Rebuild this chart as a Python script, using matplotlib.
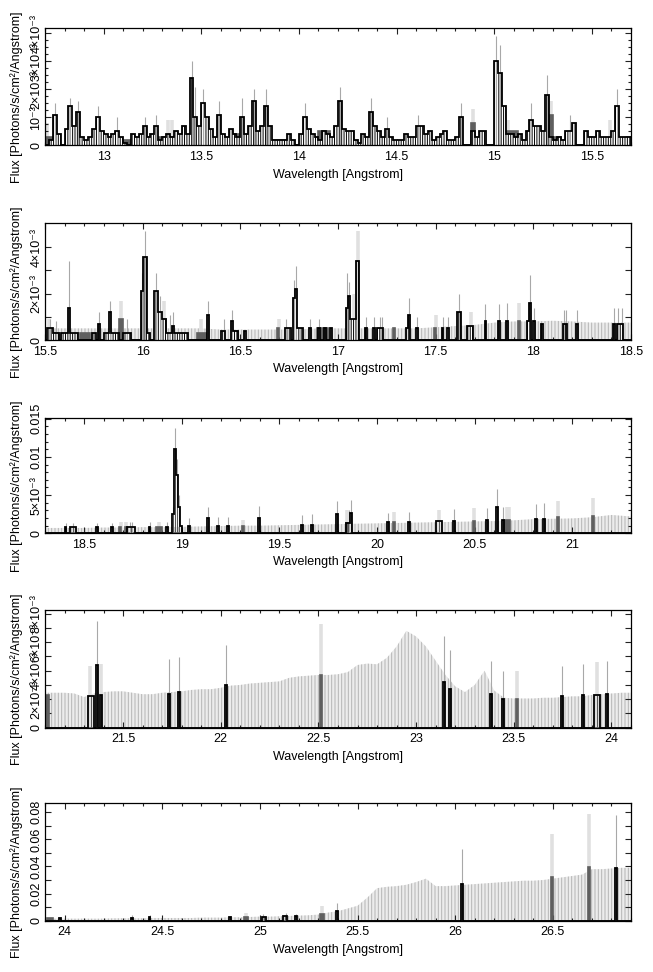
import numpy as np
import matplotlib.pyplot as plt
from matplotlib.ticker import MultipleLocator, FormatStrFormatter

plt.rcParams['font.family'] = ['Liberation Sans', 'DejaVu Sans']
plt.rcParams['font.size'] = 9
plt.rcParams['hatch.linewidth'] = 0.7

# ---------------- data (flux in units given by the per-panel scale) ----------------
# panel 1: regular 0.02 A bins, flux in 1e-4 photons/s/cm2/A
p1_start = 12.70
p1_width = 0.02
p1_flux = [0, 2, 11, 4, 0, 6, 14, 7, 12, 3,
           2, 3, 6, 10, 5, 4, 3, 4, 5, 3,
           1, 0, 4, 3, 4, 7, 3, 4, 7, 2,
           3, 4, 3, 5, 4, 7, 4, 24, 10, 7,
           15, 10, 6, 3, 11, 4, 3, 6, 4, 3,
           10, 4, 7, 16, 5, 7, 14, 7, 2, 2,
           2, 2, 4, 2, 0, 4, 10, 6, 4, 3,
           2, 5, 4, 3, 7, 16, 6, 5, 5, 2,
           1, 4, 3, 12, 7, 5, 3, 6, 3, 2,
           2, 2, 4, 3, 3, 7, 7, 4, 5, 2,
           3, 4, 5, 2, 2, 3, 10, 0, 0, 5,
           3, 5, 5, 0, 0, 30, 26, 14, 4, 4,
           3, 4, 2, 5, 9, 7, 7, 5, 18, 3,
           2, 3, 2, 5, 5, 8, 0, 0, 5, 3,
           3, 5, 3, 3, 3, 5, 14, 3, 3, 3]
p1_dark = [(12.70, 12.74, 3), (13.10, 13.14, 2), (13.28, 13.36, 3), (13.66, 13.70, 4),
           (13.86, 13.94, 2), (14.10, 14.16, 5), (14.88, 14.90, 8), (15.06, 15.12, 5),
           (15.28, 15.30, 11), (15.30, 15.34, 3), (15.48, 15.50, 3), (15.68, 15.70, 3)]
p1_err = [(12.75, 15), (12.83, 17), (12.87, 16), (12.97, 14), (13.07, 10), (13.21, 10),
          (13.27, 11), (13.45, 30), (13.47, 21), (13.51, 20), (13.59, 16), (13.71, 17),
          (13.77, 20), (13.83, 20), (14.03, 15), (14.21, 21), (14.37, 17), (14.45, 10),
          (14.61, 11), (14.83, 15), (15.01, 39), (15.03, 36), (15.19, 15), (15.27, 25),
          (15.39, 11), (15.63, 20)]
p1_light = [(12.71, 8), (13.33, 9), (13.35, 9), (14.89, 13), (15.07, 9), (15.29, 16), (15.59, 9)]

# panel 2: flux in 1e-4
p2_black = [(15.51, 15.54, 5), (15.54, 15.57, 3), (15.58, 15.62, 3), (15.62, 15.63, 14), (15.63, 15.67, 3),
            (15.74, 15.76, 3), (15.77, 15.78, 7), (15.80, 15.83, 3), (15.83, 15.84, 12), (15.84, 15.88, 3),
            (15.90, 15.94, 3), (15.99, 16.00, 21), (16.00, 16.02, 36), (16.02, 16.04, 3),
            (16.06, 16.08, 21), (16.08, 16.10, 12), (16.10, 16.12, 9), (16.12, 16.15, 3),
            (16.15, 16.16, 6), (16.16, 16.23, 3), (16.33, 16.34, 11), (16.40, 16.42, 4),
            (16.45, 16.46, 8), (16.46, 16.49, 4), (16.52, 16.53, 4), (16.73, 16.76, 5),
            (16.77, 16.78, 18), (16.78, 16.79, 22), (16.79, 16.82, 5), (16.85, 16.86, 5),
            (16.90, 16.91, 5), (16.93, 16.94, 5), (16.96, 16.97, 5), (17.04, 17.05, 14),
            (17.05, 17.06, 19), (17.06, 17.09, 9), (17.09, 17.11, 34), (17.14, 17.15, 5),
            (17.18, 17.19, 5), (17.20, 17.23, 5), (17.35, 17.36, 5), (17.36, 17.37, 11),
            (17.40, 17.41, 5), (17.53, 17.54, 5), (17.56, 17.57, 5), (17.61, 17.63, 12),
            (17.66, 17.69, 6), (17.75, 17.76, 8), (17.82, 17.83, 8), (17.86, 17.87, 8),
            (17.97, 17.98, 8), (17.98, 17.99, 16), (18.00, 18.01, 8), (18.04, 18.05, 7),
            (18.15, 18.17, 7), (18.22, 18.23, 7), (18.41, 18.42, 7), (18.43, 18.46, 7)]
p2_dark = [(15.55, 15.57, 3), (15.68, 15.73, 3), (15.88, 15.90, 9), (16.08, 16.12, 9),
           (16.28, 16.33, 3), (16.47, 16.49, 4), (16.69, 16.70, 5), (16.89, 16.95, 5),
           (17.28, 17.29, 5), (17.49, 17.50, 5), (17.92, 17.93, 8)]
p2_err = [(15.525, 9), (15.555, 8), (15.625, 34), (15.775, 12), (15.835, 17), (15.92, 9),
          (15.995, 29), (16.01, 47), (16.07, 29), (16.09, 19), (16.14, 11), (16.155, 12),
          (16.335, 17), (16.415, 9), (16.455, 13), (16.735, 9), (16.775, 26), (16.785, 32),
          (16.855, 9), (16.905, 9), (17.045, 29), (17.055, 25), (17.145, 10), (17.185, 10),
          (17.215, 10), (17.225, 10), (17.365, 18), (17.405, 10), (17.535, 10), (17.565, 10),
          (17.62, 20), (17.755, 15.5), (17.825, 15.5), (17.865, 16), (17.985, 28), (18.005, 14),
          (18.155, 13), (18.165, 13), (18.225, 13), (18.415, 14), (18.435, 14), (18.455, 14)]
p2_light = [(15.52, 9), (15.89, 17), (16.11, 17), (16.30, 9), (16.70, 9), (17.10, 47),
            (17.08, 20), (17.50, 11), (17.68, 12), (17.925, 16)]
p2_env_start = 15.5
p2_env_step = 0.1
p2_env = [5, 5, 5, 5, 5, 5, 5, 5, 5, 4.5, 4.5, 4.5, 4.5, 4.5, 5, 5, 5, 5, 5, 5,
          5.5, 6, 6.5, 7.5, 8, 8, 8.3, 8, 7.5, 7.5, 7.5]

# panel 3: flux in 1e-4
p3_black = [(18.40, 18.41, 8), (18.43, 18.46, 8), (18.56, 18.57, 8), (18.64, 18.65, 8),
            (18.72, 18.76, 8), (18.83, 18.84, 8), (18.92, 18.93, 8), (18.95, 18.96, 25),
            (18.96, 18.97, 110), (18.97, 18.98, 76), (18.98, 18.99, 34), (18.99, 19.00, 10),
            (19.03, 19.04, 9), (19.13, 19.14, 20), (19.18, 19.19, 10), (19.23, 19.24, 10),
            (19.39, 19.40, 20), (19.61, 19.62, 11), (19.66, 19.67, 11), (19.79, 19.80, 25),
            (19.84, 19.86, 13), (19.86, 19.87, 26), (20.05, 20.06, 15), (20.16, 20.17, 15),
            (20.30, 20.33, 16), (20.39, 20.40, 16), (20.56, 20.57, 17), (20.61, 20.62, 35),
            (20.64, 20.65, 17), (20.81, 20.82, 19), (20.85, 20.86, 19)]
p3_dark = [(18.68, 18.69, 8), (18.71, 18.72, 8), (18.87, 18.90, 8), (19.31, 19.32, 10),
           (19.84, 19.85, 13), (20.08, 20.09, 15), (20.49, 20.50, 16), (20.65, 20.68, 17),
           (20.92, 20.93, 21), (21.10, 21.11, 23)]
p3_err = [(18.405, 14), (18.445, 14), (18.565, 14), (18.645, 14), (18.735, 15), (18.745, 15),
          (18.835, 15), (18.925, 15), (18.955, 35), (18.965, 138), (18.975, 97), (18.985, 50),
          (19.035, 20), (19.135, 34), (19.185, 21), (19.235, 21), (19.395, 36), (19.615, 24),
          (19.665, 25), (19.795, 42), (19.855, 30), (19.865, 44), (20.055, 27), (20.165, 28),
          (20.395, 32), (20.565, 33), (20.615, 58), (20.645, 34), (20.815, 38), (20.855, 40)]
p3_light = [(18.69, 15), (18.715, 15), (18.885, 15), (19.315, 17), (19.845, 30), (20.085, 28),
            (20.315, 31), (20.495, 33), (20.665, 34), (20.675, 34), (20.925, 42), (21.105, 46)]
p3_env_start = 18.3
p3_env_step = 0.1
p3_env = [7, 7, 7, 7.5, 7.5, 8, 8, 8.5, 9, 9.5, 10, 10, 10.5, 11, 11.5, 12, 12.5, 13, 13.5, 14,
          14.5, 15, 15.5, 16, 17, 18.5, 19, 19.5, 21, 24, 22]

# panel 4: flux in 1e-4
p4_black = [(21.32, 21.35, 22), (21.36, 21.37, 44), (21.38, 21.39, 23), (21.73, 21.74, 24),
            (21.78, 21.79, 25), (22.02, 22.03, 30), (23.14, 23.15, 32), (23.17, 23.18, 27),
            (23.38, 23.39, 23.5), (23.44, 23.45, 20), (23.74, 23.75, 22), (23.85, 23.86, 23),
            (23.91, 23.94, 23), (23.97, 23.98, 24)]
p4_dark = [(21.10, 21.12, 23), (22.51, 22.52, 37), (23.51, 23.52, 20)]
p4_err = [(21.365, 75), (21.735, 48), (21.785, 49.5), (22.025, 58), (23.145, 64.6), (23.175, 54.6),
          (23.385, 47), (23.445, 39.5), (23.745, 43), (23.855, 45), (23.975, 47)]
p4_light = [(21.33, 43), (21.385, 45), (22.515, 73), (23.515, 39.5), (23.925, 46)]
p4_env_start = 21.1
p4_env_step = 0.05
p4_env = [24.5, 24.5, 24.5, 24, 21.5, 24, 25, 25.5, 25.5, 24.5,
          23.5, 23.5, 24.5, 25, 25.5, 26.5, 27, 27, 28, 29.5,
          30, 31, 31.5, 32, 32.5, 35, 36, 36.5, 37, 37,
          37.5, 39, 44, 45, 44.5, 49, 57, 68, 64, 57,
          47, 37, 29, 25, 30, 40, 26, 21, 20.5, 20.5,
          20.5, 21, 21, 21.5, 22, 22, 23, 23.5, 24, 24.5, 24.5]

# panel 5: flux in 1e-3
p5_black = [(23.97, 23.98, 1.8), (24.34, 24.35, 2.2), (24.43, 24.44, 2.5), (24.84, 24.85, 2.5),
            (25.01, 25.03, 3), (25.12, 25.14, 3.2), (25.18, 25.19, 3.2), (25.39, 25.40, 7),
            (26.03, 26.04, 27), (26.82, 26.83, 39)]
p5_dark = [(23.91, 23.94, 1.8), (24.92, 24.94, 3), (25.31, 25.33, 5), (26.49, 26.50, 32),
           (26.68, 26.69, 39.5)]
p5_err = [(24.345, 4), (24.435, 4.5), (25.015, 5), (25.135, 6), (25.185, 5), (25.395, 13.4),
          (26.035, 53), (26.825, 78)]
p5_light = [(24.93, 6), (25.32, 11), (26.495, 64), (26.685, 79)]
p5_env_start = 23.9
p5_env_step = 0.05
p5_env = [1.5, 1.5, 1.5, 1.5, 1.5, 1.5, 1.5, 1.75, 1.75, 1.75,
          1.75, 2, 2, 2, 2, 2, 2.25, 2.25, 2.25, 2.5,
          2.5, 2.75, 3, 3, 3.25, 3.5, 3.75, 4, 4.5, 6,
          7, 9, 11, 17, 24, 25, 25.5, 26.5, 28.5, 31,
          25.5, 25.5, 26, 26.5, 27, 27.5, 28, 28.5, 29, 29.5,
          29.5, 30, 31, 32, 33, 34, 38, 38, 38.5, 39, 39]

# axes ranges and tick labels
x_ranges = [(12.7, 15.7), (15.5, 18.5), (18.3, 21.3), (21.1, 24.1), (23.9, 26.9)]
y_tops = [4.2e-3, 5.05e-3, 0.0151, 8.26e-3, 0.0866]
ytick_vals = [[0, 1e-3, 2e-3, 3e-3, 4e-3],
              [0, 1e-3, 2e-3, 3e-3, 4e-3],
              [0, 0.005, 0.01, 0.015],
              [0, 1e-3, 2e-3, 3e-3, 4e-3, 5e-3, 6e-3, 7e-3, 8e-3],
              [0, 0.01, 0.02, 0.03, 0.04, 0.05, 0.06, 0.07, 0.08]]
ytick_labels = [['0', '10⁻³', '2×10⁻³', '3×10⁻³', '4×10⁻³'],
                ['0', '', '2×10⁻³', '', '4×10⁻³'],
                ['0', '5×10⁻³', '0.01', '0.015'],
                ['0', '', '2×10⁻³', '', '4×10⁻³', '', '6×10⁻³', '', '8×10⁻³'],
                ['0', '', '0.02', '', '0.04', '', '0.06', '', '0.08']]
y_minor = [0.25e-3, None, 1e-3, None, None]
striped = [True, True, False, False, False]


def steps_from_segments(segs, x0, x1):
    edges, vals = [x0], []
    for lo, hi, v in sorted(segs):
        lo = max(lo, edges[-1])
        if lo > edges[-1] + 1e-6:
            edges.append(lo)
            vals.append(0.0)
        edges.append(hi)
        vals.append(v)
    if x1 > edges[-1] + 1e-6:
        edges.append(x1)
        vals.append(0.0)
    return np.array(edges), np.array(vals, dtype=float)


def draw_errs(ax, errs, scale, color, lw, z):
    if not errs:
        return
    x = [e[0] for e in errs]
    top = [e[1] * scale for e in errs]
    ax.vlines(x, 0, top, color=color, lw=lw, zorder=z)


p1_edges = p1_start + p1_width * np.arange(len(p1_flux) + 1)

panels = [
    dict(edges=p1_edges, vals=np.array(p1_flux, float), dark=p1_dark, err=p1_err,
         light=p1_light, env=None, scale=1e-4),
    dict(segs=p2_black, dark=p2_dark, err=p2_err, light=p2_light,
         env=(p2_env_start, p2_env_step, p2_env), scale=1e-4),
    dict(segs=p3_black, dark=p3_dark, err=p3_err, light=p3_light,
         env=(p3_env_start, p3_env_step, p3_env), scale=1e-4),
    dict(segs=p4_black, dark=p4_dark, err=p4_err, light=p4_light,
         env=(p4_env_start, p4_env_step, p4_env), scale=1e-4),
    dict(segs=p5_black, dark=p5_dark, err=p5_err, light=p5_light,
         env=(p5_env_start, p5_env_step, p5_env), scale=1e-3),
]

# pixel layout of the original (top, bottom of each frame)
W, H = 653, 972
frame_px = [(27.7, 145.5), (223, 340), (418, 533.3), (610, 727.7), (803.3, 920.7)]
left_px, right_px = 45, 631

fig = plt.figure(figsize=(W / 100, H / 100), dpi=100)

for i, p in enumerate(panels):
    t, b = frame_px[i]
    ax = fig.add_axes([left_px / W, 1 - b / H, (right_px - left_px) / W, (b - t) / H])
    x0, x1 = x_ranges[i]
    s = p['scale']

    # upper limits of empty bins (light grey, striped)
    if p['env'] is not None:
        st, step, ev = p['env']
        ex = st + step * np.arange(len(ev))
        ax.fill_between(ex, 0, np.array(ev) * s, facecolor='#ececec', edgecolor='#b4b4b4',
                        hatch='|||||', linewidth=0, zorder=1)

    # second data set: light error bars and dark grey histogram
    draw_errs(ax, p['light'], s, '#e0e0e0', 2.6, 1.5)
    de, dv = steps_from_segments(p['dark'], x0, x1)
    ax.stairs(dv * s, de, fill=True, color='#5f5f5f', zorder=2)
    ax.stairs(dv * s, de, color='#5f5f5f', lw=1.2, zorder=2)

    # main data set
    if 'segs' in p:
        be, bv = steps_from_segments(p['segs'], x0, x1)
    else:
        be, bv = p['edges'], p['vals']
    if striped[i]:
        ax.stairs(bv * s, be, fill=True, facecolor='white', edgecolor='black',
                  hatch='|||||||', linewidth=0, zorder=2.4)
    else:
        centers = 0.5 * (be[:-1] + be[1:])
        nz = bv > 0
        ax.vlines(centers[nz], 0, bv[nz] * s, color='#555555', lw=0.7, zorder=2.6)
    draw_errs(ax, p['err'], s, '#a8a8a8', 0.8, 2.5)
    ax.stairs(bv * s, be, color='black', lw=1.3, zorder=3)

    ax.set_xlim(x0, x1)
    ax.set_ylim(0, y_tops[i])
    ax.xaxis.set_major_locator(MultipleLocator(0.5))
    ax.xaxis.set_minor_locator(MultipleLocator(0.1))
    ax.xaxis.set_major_formatter(FormatStrFormatter('%g'))
    ax.set_yticks(ytick_vals[i])
    ax.set_yticklabels(ytick_labels[i])
    if y_minor[i]:
        ax.yaxis.set_minor_locator(MultipleLocator(y_minor[i]))
    ax.tick_params(which='both', direction='in', top=True, right=True, width=0.8, color='#222222')
    ax.tick_params(which='major', length=4)
    ax.tick_params(which='minor', length=2.2)
    ax.tick_params(axis='x', pad=4)
    ax.tick_params(axis='y', pad=2, labelrotation=90)
    for lab in ax.get_yticklabels():
        lab.set_va('center')
    for sp in ax.spines.values():
        sp.set_linewidth(0.9)

    ax.set_xlabel('Wavelength [Angstrom]')
    ax.xaxis.set_label_coords(0.5, -0.2)
    ax.set_ylabel('Flux [Photons/s/cm²/Angstrom]')
    ax.yaxis.set_label_coords(-0.0375, 0.41)

fig.savefig('out.png', dpi=100)
